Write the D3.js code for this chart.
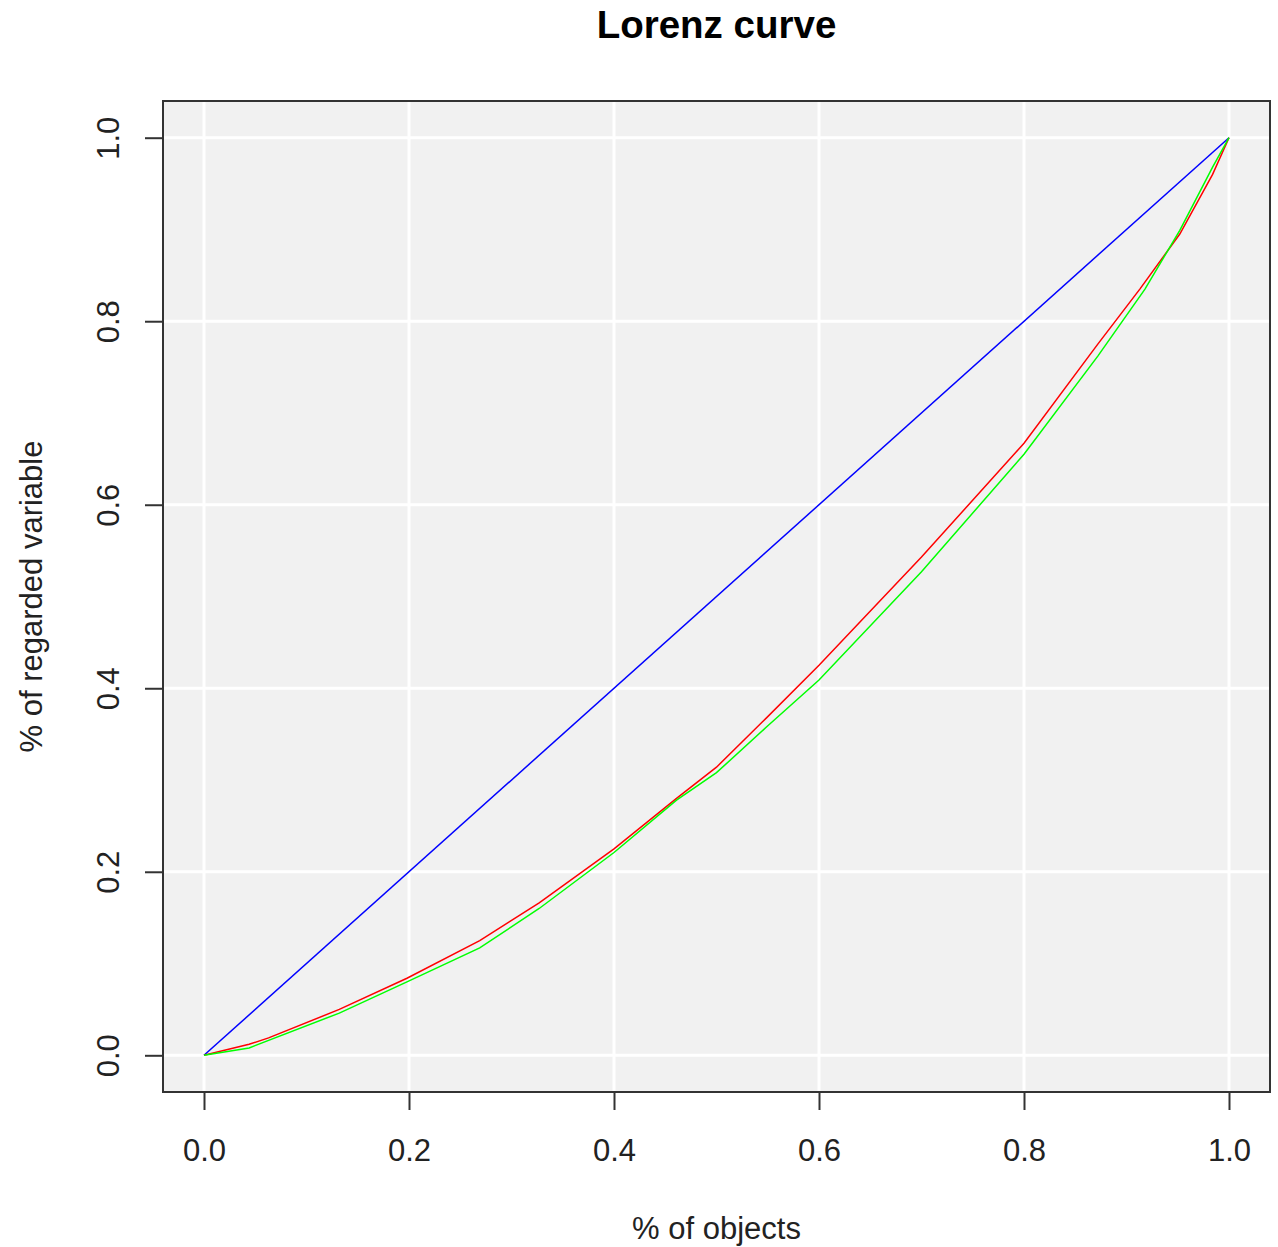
<!DOCTYPE html>
<html>
<head>
<meta charset="utf-8">
<script src="https://cdn.jsdelivr.net/npm/d3@7"></script>
<style>
  body { margin: 0; background: #fff; }
  svg { display: block; font-family: "Liberation Sans", Arial, sans-serif; }
</style>
</head>
<body>
<div id="chart"></div>
<script>
// Lorenz curve data
const equalX = [0, 1];
const equalY = [0, 1];

const redX = [0, 0.044, 0.063, 0.132, 0.198, 0.269, 0.327, 0.4, 0.461, 0.5, 0.549, 0.6, 0.7, 0.8, 0.872, 0.913, 0.952, 0.984, 1.0];
const redY = [0, 0.012, 0.019, 0.050, 0.084, 0.125, 0.166, 0.225, 0.280, 0.314, 0.368, 0.425, 0.543, 0.667, 0.775, 0.835, 0.895, 0.960, 1.0];

const greenX = [0, 0.044, 0.132, 0.198, 0.269, 0.327, 0.4, 0.461, 0.5, 0.549, 0.6, 0.7, 0.8, 0.872, 0.918, 0.952, 0.984, 1.0];
const greenY = [0, 0.008, 0.046, 0.080, 0.117, 0.160, 0.221, 0.278, 0.308, 0.358, 0.409, 0.527, 0.655, 0.762, 0.835, 0.899, 0.968, 1.0];

const ticks = [0, 0.2, 0.4, 0.6, 0.8, 1.0];

const width = 1278, height = 1247;
const plot = { left: 163, right: 1270, top: 101, bottom: 1092 };

const svg = d3.select("#chart").append("svg")
  .attr("width", width)
  .attr("height", height);

// R-style 4% padding on the domain
const x = d3.scaleLinear().domain([-0.04, 1.04]).range([plot.left, plot.right]);
const y = d3.scaleLinear().domain([-0.04, 1.04]).range([plot.bottom, plot.top]);

// panel background
svg.append("rect")
  .attr("x", plot.left).attr("y", plot.top)
  .attr("width", plot.right - plot.left)
  .attr("height", plot.bottom - plot.top)
  .attr("fill", "#f1f1f1");

// grid
svg.append("g").selectAll("line")
  .data(ticks).join("line")
  .attr("x1", d => x(d)).attr("x2", d => x(d))
  .attr("y1", plot.top).attr("y2", plot.bottom)
  .attr("stroke", "#fff").attr("stroke-width", 3);
svg.append("g").selectAll("line")
  .data(ticks).join("line")
  .attr("y1", d => y(d)).attr("y2", d => y(d))
  .attr("x1", plot.left).attr("x2", plot.right)
  .attr("stroke", "#fff").attr("stroke-width", 3);

// curves
const line = d3.line().x(d => x(d[0])).y(d => y(d[1]));
const series = [
  { xs: equalX, ys: equalY, color: "#0000ff" },
  { xs: redX, ys: redY, color: "#ff0000" },
  { xs: greenX, ys: greenY, color: "#00ff00" }
];
series.forEach(s => {
  svg.append("path")
    .datum(d3.zip(s.xs, s.ys))
    .attr("fill", "none")
    .attr("stroke", s.color)
    .attr("stroke-width", 1.5)
    .attr("d", line);
});

// frame
svg.append("rect")
  .attr("x", plot.left).attr("y", plot.top)
  .attr("width", plot.right - plot.left)
  .attr("height", plot.bottom - plot.top)
  .attr("fill", "none")
  .attr("stroke", "#333").attr("stroke-width", 2);

// axes
const xAxis = svg.append("g")
  .attr("transform", `translate(0,${plot.bottom})`)
  .call(d3.axisBottom(x).tickValues(ticks).tickFormat(d3.format(".1f")).tickSize(18).tickPadding(29));
const yAxis = svg.append("g")
  .attr("transform", `translate(${plot.left},0)`)
  .call(d3.axisLeft(y).tickValues(ticks).tickFormat(d3.format(".1f")).tickSize(18).tickPadding(10));

[xAxis, yAxis].forEach(a => {
  a.select(".domain").remove();
  a.selectAll(".tick line").attr("stroke", "#333").attr("stroke-width", 2);
  a.selectAll("text").attr("fill", "#222").style("font-size", "31px");
});

yAxis.selectAll(".tick text")
  .attr("x", null).attr("dy", null)
  .attr("text-anchor", "middle")
  .attr("transform", "translate(-55,0) rotate(-90)")
  .attr("dy", "0.35em");

// title and axis labels
svg.append("text")
  .attr("x", (plot.left + plot.right) / 2)
  .attr("y", 38)
  .attr("text-anchor", "middle")
  .style("font-size", "38.5px")
  .style("font-weight", "bold")
  .attr("fill", "#000")
  .text("Lorenz curve");

svg.append("text")
  .attr("x", (plot.left + plot.right) / 2)
  .attr("y", 1239)
  .attr("text-anchor", "middle")
  .style("font-size", "31px")
  .attr("fill", "#222")
  .text("% of objects");

svg.append("text")
  .attr("transform", `translate(42,${(plot.top + plot.bottom) / 2}) rotate(-90)`)
  .attr("text-anchor", "middle")
  .style("font-size", "31px")
  .attr("fill", "#222")
  .text("% of regarded variable");
</script>
</body>
</html>
